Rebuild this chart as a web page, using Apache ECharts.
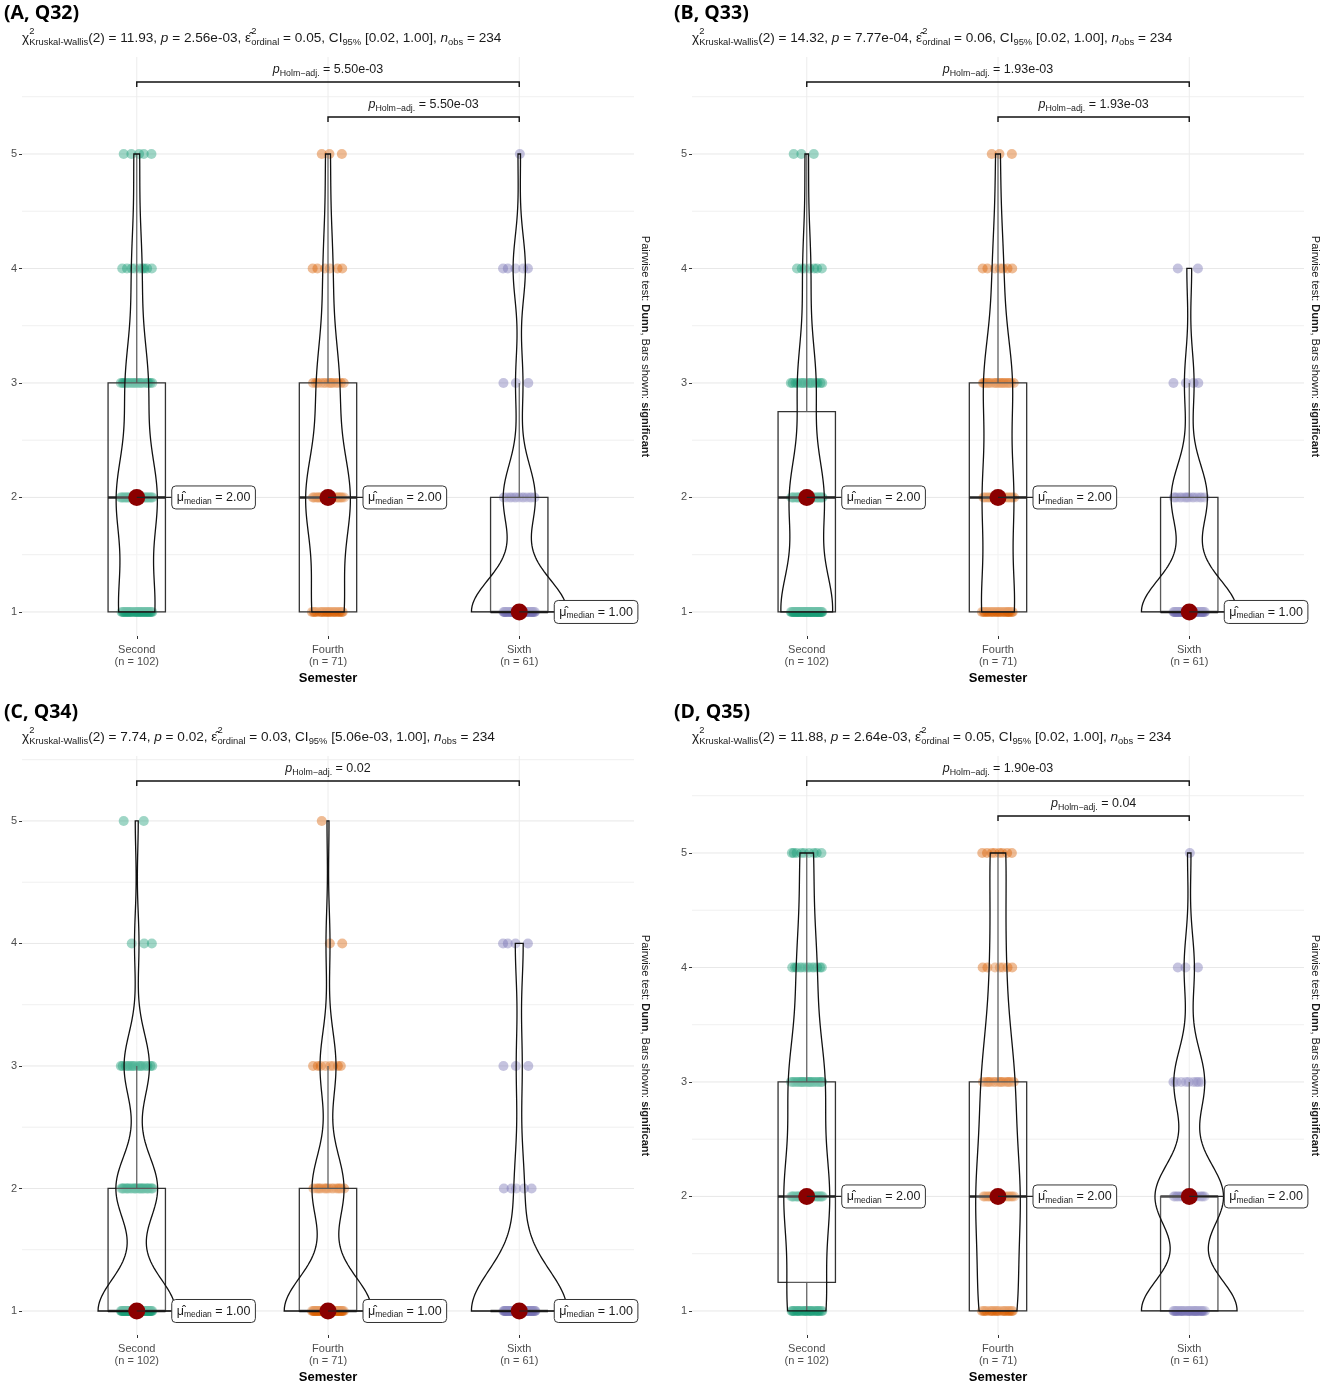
<!DOCTYPE html>
<html>
<head>
<meta charset="utf-8">
<script src="https://cdn.jsdelivr.net/npm/echarts@6/dist/echarts.min.js"></script>
<style>
html, body { margin: 0; padding: 0; background: #fff; }
#main { width: 1325px; height: 1385px; }
</style>
</head>
<body>
<div id="main"></div>
<script>
// ---- data ----
var groups = ['Second', 'Fourth', 'Sixth'];
var groupN = [102, 71, 61];
var levels = [1, 2, 3, 4, 5];
var groupColors = ['#1B9E77', '#D95F02', '#7570B3'];

// answers per level 1..5 (rows: Second, Fourth, Sixth)
var countsQ32 = [[32, 36, 20, 9, 5], [20, 28, 14, 6, 3], [39, 13, 3, 5, 1]];
var countsQ33 = [[46, 30, 16, 7, 3], [22, 20, 19, 7, 3], [40, 15, 4, 2, 0]];
var countsQ34 = [[52, 28, 17, 3, 2], [44, 16, 8, 2, 1], [49, 5, 3, 4, 0]];
var countsQ35 = [[26, 30, 24, 13, 9], [19, 21, 16, 7, 8], [28, 20, 9, 3, 1]];

// significant pairwise comparisons [from, to, p]
var pairsQ32 = [[1, 3, '5.50e-03'], [2, 3, '5.50e-03']];
var pairsQ33 = [[1, 3, '1.93e-03'], [2, 3, '1.93e-03']];
var pairsQ34 = [[1, 3, '0.02']];
var pairsQ35 = [[1, 3, '1.90e-03'], [2, 3, '0.04']];

var panelTitles = ['(A, Q32)', '(B, Q33)', '(C, Q34)', '(D, Q35)'];
var statChi = ['11.93', '14.32', '7.74', '11.88'];
var statP = ['2.56e-03', '7.77e-04', '0.02', '2.64e-03'];
var statEps = ['0.05', '0.06', '0.03', '0.05'];
var statCI = ['[0.02, 1.00]', '[0.02, 1.00]', '[5.06e-03, 1.00]', '[0.02, 1.00]'];
var statNobs = 234;

var panels = [
    {counts: countsQ32, pairs: pairsQ32},
    {counts: countsQ33, pairs: pairsQ33},
    {counts: countsQ34, pairs: pairsQ34},
    {counts: countsQ35, pairs: pairsQ35}
];

// ---- layout ----
var FONT = '"Liberation Sans", Arial, sans-serif';
var grids = [
    {left: 22, top: 57, width: 612, height: 579},
    {left: 692, top: 57, width: 612, height: 579},
    {left: 22, top: 756, width: 612, height: 579},
    {left: 692, top: 756, width: 612, height: 579}
];
var yRanges = [[0.79, 5.847], [0.79, 5.847], [0.804, 5.53], [0.79, 5.847]];

// ---- helpers ----
var ctx2d = document.createElement('canvas').getContext('2d');
function textW(t, s, it, bold) {
    ctx2d.font = (it ? 'italic ' : '') + (bold ? 'bold ' : '') + s + 'px ' + FONT;
    return ctx2d.measureText(t).width;
}
function segText(t, s, x, y, it) {
    return {
        type: 'text', x: x, y: y, silent: true,
        style: {
            text: t, fontSize: s, fontFamily: FONT,
            fontStyle: it ? 'italic' : 'normal',
            fill: '#1a1a1a', align: 'left', verticalAlign: 'middle'
        }
    };
}
// segments: {t, s, dy, it} or {stack: [seg, seg]}
function layoutSegs(segs, x, base, align) {
    var widths = segs.map(function (g) {
        if (g.stack) {
            return Math.max.apply(null, g.stack.map(function (k) { return textW(k.t, k.s, k.it); }));
        }
        return textW(g.t, g.s, g.it);
    });
    var total = widths.reduce(function (a, b) { return a + b; }, 0);
    var cx = align === 'center' ? x - total / 2 : x;
    var els = [];
    segs.forEach(function (g, i) {
        (g.stack || [g]).forEach(function (k) {
            els.push(segText(k.t, k.s, cx, base + (k.dy || 0) - 0.35 * k.s, k.it));
        });
        cx += widths[i];
    });
    return {els: els, width: total};
}

function expand(counts) {
    var x = [];
    counts.forEach(function (c, i) {
        for (var k = 0; k < c; k++) x.push(levels[i]);
    });
    return x;
}
function quantile(x, p) {
    var h = (x.length - 1) * p, lo = Math.floor(h);
    var hi = Math.min(lo + 1, x.length - 1);
    return x[lo] + (h - lo) * (x[hi] - x[lo]);
}
function boxStats(counts) {
    var x = expand(counts);
    var q1 = quantile(x, 0.25), med = quantile(x, 0.5), q3 = quantile(x, 0.75);
    var iqr = q3 - q1;
    var lw = x.filter(function (v) { return v >= q1 - 1.5 * iqr; })[0];
    var inside = x.filter(function (v) { return v <= q3 + 1.5 * iqr; });
    var hw = inside[inside.length - 1];
    return {q1: q1, med: med, q3: q3, lw: lw, hw: hw};
}
function bwNrd0(x) {
    var n = x.length;
    var mean = x.reduce(function (a, b) { return a + b; }, 0) / n;
    var ss = x.reduce(function (a, b) { return a + (b - mean) * (b - mean); }, 0);
    var sd = Math.sqrt(ss / (n - 1));
    var iqr = quantile(x, 0.75) - quantile(x, 0.25);
    var lo = Math.min(sd, iqr / 1.34);
    if (!lo) lo = sd || Math.abs(x[0]) || 1;
    return 0.9 * lo * Math.pow(n, -0.2);
}
function kde(counts) {
    var x = expand(counts), n = x.length, bw = bwNrd0(x);
    var lo = x[0], hi = x[n - 1], pts = [];
    for (var i = 0; i < 160; i++) {
        var y = lo + (hi - lo) * i / 159, d = 0;
        counts.forEach(function (c, li) {
            var z = (y - levels[li]) / bw;
            d += c * Math.exp(-0.5 * z * z) / Math.sqrt(2 * Math.PI);
        });
        pts.push([y, d / (n * bw)]);
    }
    return pts;
}
function jitterPoints(counts, gi) {
    var pts = [];
    counts.forEach(function (c, li) {
        for (var k = 0; k < c; k++) {
            var u = ((k + 1) * 0.618034 + li * 0.37 + gi * 0.21) % 1;
            pts.push({value: [gi + 1 + (u - 0.5) * 0.17, levels[li]],
                itemStyle: {color: groupColors[gi]}});
        }
    });
    return pts;
}

// ---- build option ----
var series = [];
var graphics = [];
var xAxes = [];
var yAxes = [];

panels.forEach(function (panel, pi) {
    var yMin = yRanges[pi][0], yMax = yRanges[pi][1];
    var stats = panel.counts.map(boxStats);
    var dens = panel.counts.map(kde);
    var maxD = 0;
    dens.forEach(function (d) { d.forEach(function (p) { if (p[1] > maxD) maxD = p[1]; }); });

    xAxes.push({
        gridIndex: pi, type: 'value', min: 0.4, max: 3.6,
        axisLine: {show: false}, splitLine: {show: false},
        axisTick: {customValues: [1, 2, 3], length: 3, lineStyle: {color: '#333'}},
        axisLabel: {
            customValues: [1, 2, 3], fontSize: 11, lineHeight: 12, color: '#4d4d4d',
            fontFamily: FONT, margin: 8,
            formatter: function (v) { var i = Math.round(v) - 1; return groups[i] + '\n(n = ' + groupN[i] + ')'; }
        },
        name: 'Semester', nameLocation: 'middle', nameGap: 36,
        nameTextStyle: {fontWeight: 'bold', fontSize: 13, color: '#000', fontFamily: FONT}
    });
    yAxes.push({
        gridIndex: pi, type: 'value', min: yMin, max: yMax,
        axisLine: {show: false}, splitLine: {show: false},
        axisTick: {customValues: levels, length: 3, lineStyle: {color: '#333'}},
        axisLabel: {customValues: levels, fontSize: 11, color: '#4d4d4d', fontFamily: FONT, margin: 5,
            formatter: function (v) { return String(Math.round(v)); }}
    });

    // background grid lines
    series.push({
        type: 'custom', xAxisIndex: pi, yAxisIndex: pi, silent: true, z: 1,
        data: [[1, 1]],
        renderItem: function (params, api) {
            var ch = [];
            for (var v = 1; v <= yMax; v += 0.5) {
                var a = api.coord([0.4, v]), b = api.coord([3.6, v]);
                ch.push({type: 'line', shape: {x1: a[0], y1: a[1], x2: b[0], y2: b[1]},
                    style: {stroke: v % 1 ? '#f0f0f0' : '#e8e8e8', lineWidth: 1}});
            }
            [1, 2, 3].forEach(function (g) {
                var a = api.coord([g, yMin]), b = api.coord([g, yMax]);
                ch.push({type: 'line', shape: {x1: a[0], y1: a[1], x2: b[0], y2: b[1]},
                    style: {stroke: '#ececec', lineWidth: 1}});
            });
            return {type: 'group', children: ch};
        }
    });

    // jittered answers
    var pts = [];
    panel.counts.forEach(function (c, gi) { pts = pts.concat(jitterPoints(c, gi)); });
    series.push({
        type: 'scatter', xAxisIndex: pi, yAxisIndex: pi, z: 2, silent: true,
        symbolSize: 10, itemStyle: {opacity: 0.42}, data: pts
    });

    // boxplots
    series.push({
        type: 'custom', xAxisIndex: pi, yAxisIndex: pi, z: 3, silent: true,
        data: groups.map(function (g, gi) { return [gi + 1, stats[gi].med]; }),
        renderItem: function (params, api) {
            var gi = params.dataIndex, s = stats[gi], cx = gi + 1;
            var tl = api.coord([cx - 0.15, s.q3]), br = api.coord([cx + 0.15, s.q1]);
            var m1 = api.coord([cx - 0.15, s.med]), m2 = api.coord([cx + 0.15, s.med]);
            var wTop = api.coord([cx, s.hw]), wQ3 = api.coord([cx, s.q3]);
            var wBot = api.coord([cx, s.lw]), wQ1 = api.coord([cx, s.q1]);
            var line = {stroke: '#333', lineWidth: 1.2};
            return {type: 'group', children: [
                {type: 'line', shape: {x1: wQ3[0], y1: wQ3[1], x2: wTop[0], y2: wTop[1]}, style: line},
                {type: 'line', shape: {x1: wQ1[0], y1: wQ1[1], x2: wBot[0], y2: wBot[1]}, style: line},
                {type: 'rect', shape: {x: tl[0], y: tl[1], width: br[0] - tl[0], height: br[1] - tl[1]},
                    style: {fill: 'rgba(255,255,255,0.2)', stroke: '#333', lineWidth: 1.3}},
                {type: 'line', shape: {x1: m1[0], y1: m1[1], x2: m2[0], y2: m2[1]},
                    style: {stroke: '#222', lineWidth: 2.6}}
            ]};
        }
    });

    // violins
    series.push({
        type: 'custom', xAxisIndex: pi, yAxisIndex: pi, z: 4, silent: true,
        data: groups.map(function (g, gi) { return [gi + 1, 1]; }),
        renderItem: function (params, api) {
            var gi = params.dataIndex, cx = gi + 1, d = dens[gi];
            var right = d.map(function (p) { return api.coord([cx + 0.25 * p[1] / maxD, p[0]]); });
            var left = d.slice().reverse().map(function (p) { return api.coord([cx - 0.25 * p[1] / maxD, p[0]]); });
            return {type: 'polygon', shape: {points: right.concat(left)},
                style: {fill: 'rgba(255,255,255,0.2)', stroke: '#111', lineWidth: 1.3}};
        }
    });

    // significance brackets
    series.push({
        type: 'custom', xAxisIndex: pi, yAxisIndex: pi, z: 5, silent: true,
        data: panel.pairs.map(function (p, i) { return [p[0], p[1], i]; }),
        renderItem: function (params, api) {
            var pr = panel.pairs[params.dataIndex];
            var x1 = api.coord([pr[0], 1])[0], x2 = api.coord([pr[1], 1])[0];
            var top = api.coord([1, yMax])[1];
            var y = top + 25 + 35 * params.dataIndex;
            var lab = layoutSegs([
                {t: 'p', s: 12.5, it: true},
                {t: 'Holm\u2212adj.', s: 8.8, dy: 3},
                {t: ' = ' + pr[2], s: 12.5}
            ], (x1 + x2) / 2, y - 8, 'center');
            return {type: 'group', children: [
                {type: 'polyline', shape: {points: [[x1, y + 5], [x1, y], [x2, y], [x2, y + 5]]},
                    style: {stroke: '#111', lineWidth: 1.4, fill: null}}
            ].concat(lab.els)};
        }
    });

    // medians
    series.push({
        type: 'scatter', xAxisIndex: pi, yAxisIndex: pi, z: 6, silent: true,
        symbolSize: 17, itemStyle: {color: '#8B0000', opacity: 1},
        data: groups.map(function (g, gi) { return [gi + 1, stats[gi].med]; })
    });
    series.push({
        type: 'custom', xAxisIndex: pi, yAxisIndex: pi, z: 7, silent: true,
        data: groups.map(function (g, gi) { return [gi + 1, stats[gi].med]; }),
        renderItem: function (params, api) {
            var p = api.coord([api.value(0), api.value(1)]);
            var x0 = p[0] + 35;
            var lab = layoutSegs([
                {t: '\u03bc\u0302', s: 12.5},
                {t: 'median', s: 8.5, dy: 2.5},
                {t: ' = ' + api.value(1).toFixed(2), s: 12.5}
            ], x0 + 5, p[1] + 4.5, 'left');
            return {type: 'group', children: [
                {type: 'line', shape: {x1: p[0], y1: p[1], x2: x0, y2: p[1]},
                    style: {stroke: '#222', lineWidth: 1.2}},
                {type: 'rect', shape: {x: x0, y: p[1] - 11.5, width: lab.width + 10, height: 23, r: 4},
                    style: {fill: '#fff', stroke: '#333', lineWidth: 1}}
            ].concat(lab.els)};
        }
    });

    // panel title, subtitle, caption
    var gr = grids[pi];
    graphics.push({type: 'text', x: gr.left - 18, y: gr.top - 54, silent: true,
        style: {text: panelTitles[pi], fontSize: 19.5, fontWeight: 'bold', fontFamily: '"Open Sans", sans-serif',
            fill: '#000', align: 'left', verticalAlign: 'top'}});
    var sub = layoutSegs([
        {t: '\u03c7', s: 13.6},
        {stack: [{t: '2', s: 9.4, dy: -8}, {t: 'Kruskal-Wallis', s: 9.4, dy: 3}]},
        {t: '(2) = ' + statChi[pi] + ', ', s: 13.6},
        {t: 'p', s: 13.6, it: true},
        {t: ' = ' + statP[pi] + ', ', s: 13.6},
        {t: '\u03b5\u0302', s: 13.6},
        {stack: [{t: '2', s: 9.4, dy: -8}, {t: 'ordinal', s: 9.4, dy: 3}]},
        {t: ' = ' + statEps[pi] + ', CI', s: 13.6},
        {t: '95%', s: 9.4, dy: 3},
        {t: ' ' + statCI[pi] + ', ', s: 13.6},
        {t: 'n', s: 13.6, it: true},
        {t: 'obs', s: 9.4, dy: 3},
        {t: ' = ' + statNobs, s: 13.6}
    ], gr.left, gr.top - 14, 'left');
    graphics = graphics.concat(sub.els);
    graphics.push({type: 'text', x: gr.left + gr.width + 11, y: gr.top + gr.height / 2, rotation: -Math.PI / 2,
        silent: true,
        style: {text: 'Pairwise test: {b|Dunn}, Bars shown: {b|significant}', fontSize: 11, fontFamily: FONT,
            fill: '#1a1a1a', align: 'center', verticalAlign: 'middle',
            rich: {b: {fontWeight: 'bold', fontSize: 11, fontFamily: FONT, fill: '#1a1a1a'}}}});
});

var chart = echarts.init(document.getElementById('main'), null, {renderer: 'canvas'});
chart.setOption({
    animation: false,
    backgroundColor: '#fff',
    grid: grids,
    xAxis: xAxes,
    yAxis: yAxes,
    series: series,
    graphic: {elements: graphics}
});
</script>
</body>
</html>
